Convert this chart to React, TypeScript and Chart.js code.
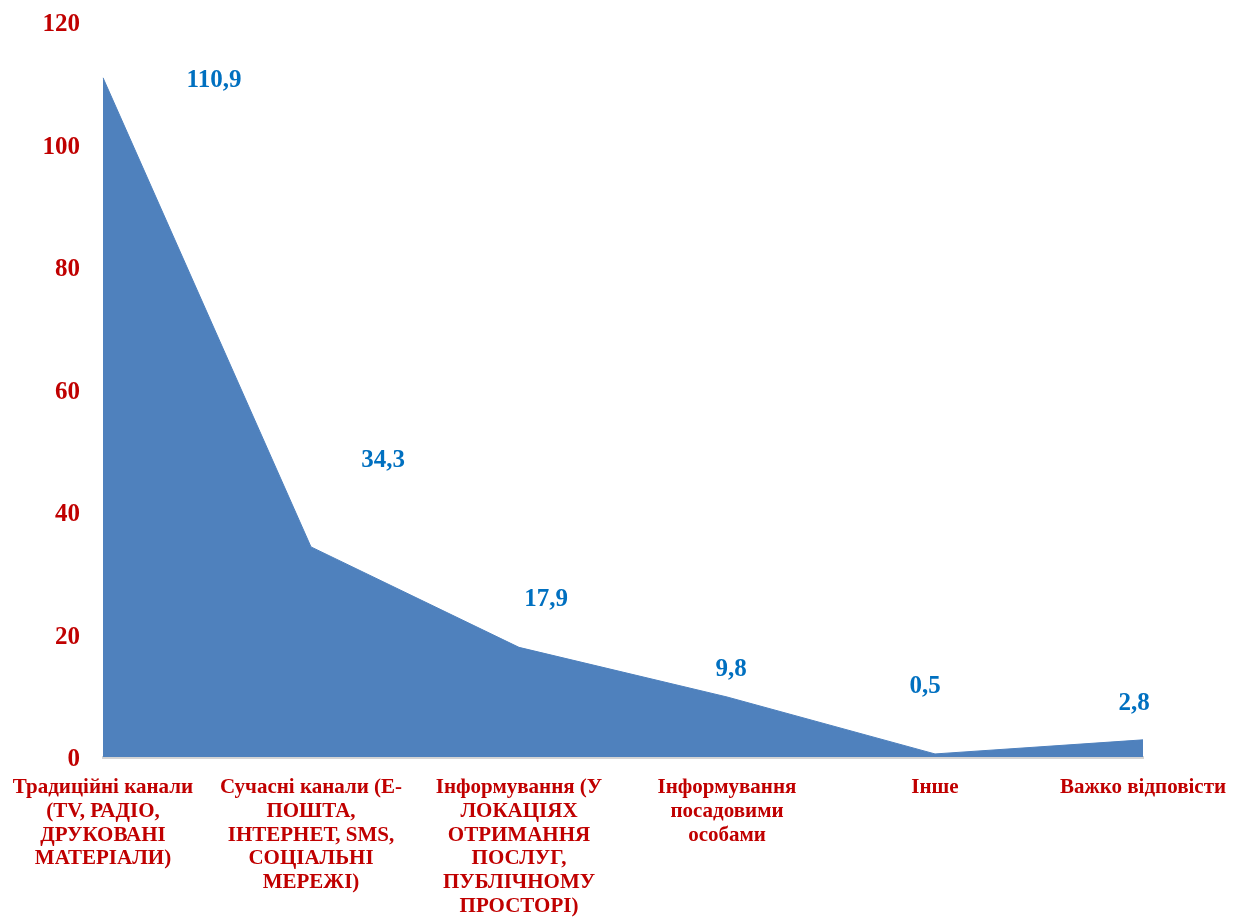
import React, { useEffect, useRef } from "react";
import { Chart, registerables } from "chart.js";

Chart.register(...registerables);

// Categories (multi-line axis labels)
const categories: string[][] = [
  ["Традиційні канали", "(TV, РАДІО,", "ДРУКОВАНІ", "МАТЕРІАЛИ)"],
  ["Сучасні канали (Е-", "ПОШТА,", "ІНТЕРНЕТ, SMS,", "СОЦІАЛЬНІ", "МЕРЕЖІ)"],
  ["Інформування (У", "ЛОКАЦІЯХ", "ОТРИМАННЯ", "ПОСЛУГ,", "ПУБЛІЧНОМУ", "ПРОСТОРІ)"],
  ["Інформування", "посадовими", "особами"],
  ["Інше"],
  ["Важко відповісти"],
];

// Series values
const values: number[] = [110.9, 34.3, 17.9, 9.8, 0.5, 2.8];

// Value axis ticks
const yTicks: number[] = [0, 20, 40, 60, 80, 100, 120];

// Pixel offsets of each value label from its point
const labelOffsets: [number, number][] = [
  [111, 3],
  [72, -86],
  [27, -48],
  [4, -27],
  [-10, -67],
  [-9, -36],
];

const RED = "#C00000";
const BLUE = "#0070C0";
const FILL = "#4F81BD";
const SERIF = "'Liberation Serif', 'Times New Roman', serif";

const valueLabels = {
  id: "valueLabels",
  afterDatasetsDraw(chart: any) {
    const meta = chart.getDatasetMeta(0);
    const ctx = chart.ctx;
    ctx.save();
    ctx.font = `bold 25px ${SERIF}`;
    ctx.fillStyle = BLUE;
    ctx.textAlign = "center";
    ctx.textBaseline = "middle";
    meta.data.forEach((pt: any, i: number) => {
      const [dx, dy] = labelOffsets[i];
      const txt = values[i].toFixed(1).replace(".", ",");
      ctx.fillText(txt, pt.x + dx, pt.y + dy);
    });
    ctx.restore();
  },
};

export default function App() {
  const ref = useRef<HTMLCanvasElement | null>(null);

  useEffect(() => {
    if (!ref.current) return;
    const chart = new Chart(ref.current, {
      type: "line",
      data: {
        labels: categories,
        datasets: [
          {
            data: values,
            fill: "origin",
            backgroundColor: FILL,
            borderColor: FILL,
            borderWidth: 1,
            pointRadius: 0,
            tension: 0,
          },
        ],
      },
      options: {
        animation: false,
        responsive: false,
        maintainAspectRatio: false,
        layout: { padding: { top: 22, right: 99, left: 0, bottom: 0 } },
        plugins: {
          legend: { display: false },
          tooltip: { enabled: false },
        },
        scales: {
          x: {
            offset: false,
            grid: { display: false },
            border: { display: true, color: "#d4d4d4", width: 3 },
            ticks: {
              color: RED,
              font: { family: SERIF, size: 21, weight: "bold", lineHeight: 1.13 },
              maxRotation: 0,
              minRotation: 0,
              autoSkip: false,
              padding: 11,
            },
            afterFit(scale: any) {
              scale.height = 160;
              scale.paddingLeft = 0;
              scale.paddingRight = 0;
            },
          },
          y: {
            min: 0,
            max: 120,
            grid: { display: false },
            border: { display: false },
            afterBuildTicks(scale: any) {
              scale.ticks = yTicks.map((v) => ({ value: v }));
            },
            ticks: {
              color: RED,
              font: { family: SERIF, size: 25, weight: "bold" },
              padding: 15,
              labelOffset: 3,
            },
            afterFit(scale: any) {
              scale.width = 103;
              scale.paddingTop = 0;
              scale.paddingBottom = 0;
            },
          },
        },
      },
      plugins: [valueLabels],
    });
    return () => chart.destroy();
  }, []);

  return (
    <div style={{ position: "fixed", left: 0, top: 0, width: 1242, height: 917, background: "#fff" }}>
      <canvas ref={ref} width={1242} height={917} style={{ width: 1242, height: 917 }} />
    </div>
  );
}
